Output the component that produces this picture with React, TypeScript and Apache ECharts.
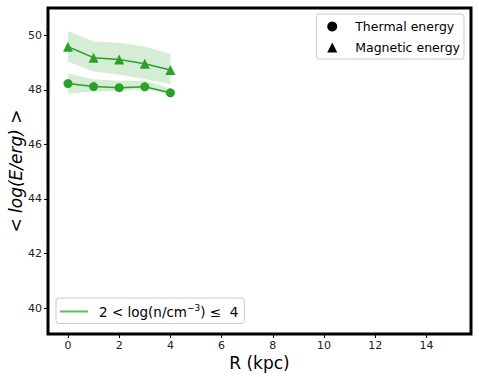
import React, { useEffect, useRef } from "react";
import * as echarts from "echarts";

const R = [0, 1, 2, 3, 4];
const thermal = [48.23, 48.12, 48.08, 48.11, 47.89];
const thermalLow = [47.86, 47.94, 47.96, 48.03, 47.84];
const thermalHigh = [48.6, 48.39, 48.33, 48.33, 48.06];
const magnetic = [49.58, 49.18, 49.11, 48.96, 48.73];
const magneticLow = [49.03, 48.67, 48.55, 48.39, 48.21];
const magneticHigh = [50.16, 49.77, 49.73, 49.59, 49.31];
const xTicks = [0, 2, 4, 6, 8, 10, 12, 14];
const yTicks = [40, 42, 44, 46, 48, 50];
const densityLabel = "2 < log(n/cm⁻³) ≤  4";
const densityRich = "2 < log(n/cm{sup|−3}) ≤  4";

const GREEN = "#2ca02c";
const BAND = "rgba(44,160,44,0.2)";
const FONT = "DejaVu Sans";

function pairs(ys: number[]) {
  return R.map((x, i) => [x, ys[i]]);
}

export default function App() {
  const ref = useRef<HTMLDivElement>(null);
  useEffect(() => {
    const chart = echarts.init(ref.current!, null, { renderer: "svg" });
    const bandSeries = (lo: number[], hi: number[]) => ({
      type: "custom",
      silent: true,
      z: 1,
      data: [0],
      encode: { x: [], y: [] },
      renderItem: (_params: any, api: any) => {
        const upper = R.map((x, i) => api.coord([x, hi[i]]));
        const lower = R.map((x, i) => api.coord([x, lo[i]])).reverse();
        return {
          type: "polygon",
          shape: { points: upper.concat(lower) },
          style: { fill: BAND, stroke: "none" },
        };
      },
    });
    chart.setOption({
      animation: false,
      textStyle: { fontFamily: FONT },
      grid: {
        left: 48,
        right: 8,
        top: 8,
        bottom: 43,
        outerBoundsMode: "none",
        containLabel: false,
        show: true,
        borderColor: "#000",
        borderWidth: 3,
        backgroundColor: "#fff",
      },
      xAxis: {
        type: "value",
        min: -0.78,
        max: 15.74,
        splitLine: { show: false },
        axisLine: { show: false, onZero: false },
        axisTick: { show: true, length: 4, lineStyle: { color: "#000" }, customValues: xTicks },
        axisLabel: { fontSize: 11, color: "#222", fontFamily: FONT, margin: 6, customValues: xTicks },
        name: "R (kpc)",
        nameLocation: "middle",
        nameGap: 20,
        nameMoveOverlap: false,
        nameTextStyle: { fontSize: 17, color: "#000", fontFamily: FONT },
      },
      yAxis: {
        type: "value",
        min: 39.05,
        max: 51,
        splitLine: { show: false },
        axisLine: { show: false, onZero: false },
        axisTick: { show: true, length: 4, lineStyle: { color: "#000" }, customValues: yTicks },
        axisLabel: { fontSize: 11, color: "#222", fontFamily: FONT, margin: 6, customValues: yTicks },
        name: "< {it|log(E/erg)} >",
        nameLocation: "middle",
        nameGap: 24,
        nameMoveOverlap: false,
        nameRotate: 90,
        nameTextStyle: {
          fontSize: 17,
          color: "#000",
          fontFamily: FONT,
          rich: { it: { fontStyle: "italic", fontSize: 17, fontFamily: FONT, color: "#000" } },
        },
      },
      legend: [
        {
          orient: "vertical",
          right: 15,
          top: 14,
          itemWidth: 10,
          itemHeight: 10,
          itemGap: 8,
          backgroundColor: "#fff",
          borderColor: "#ccc",
          borderWidth: 1,
          borderRadius: 3,
          padding: [6, 4, 5, 11],
          textStyle: { fontSize: 12.5, color: "#000", fontFamily: FONT, padding: [0, 0, 0, 13] },
          data: [
            { name: "Thermal energy", icon: "circle" },
            { name: "Magnetic energy", icon: "triangle" },
          ],
          selectedMode: false,
        },
        {
          left: 56,
          top: 298,
          itemWidth: 28,
          itemHeight: 2,
          backgroundColor: "#fff",
          borderColor: "#ccc",
          borderWidth: 1,
          borderRadius: 3,
          padding: [5, 6, 5, 4],
          formatter: () => densityRich,
          textStyle: {
            fontSize: 13.5,
            color: "#000",
            fontFamily: FONT,
            padding: [0, 0, 0, 6],
            rich: {
              sup: { fontSize: 9, color: "#000", fontFamily: FONT, padding: [0, 0, 8, 0] },
            },
          },
          data: [{ name: densityLabel, icon: "rect" }],
          selectedMode: false,
        },
      ],
      series: [
        bandSeries(thermalLow, thermalHigh),
        bandSeries(magneticLow, magneticHigh),
        {
          type: "line",
          data: pairs(thermal),
          symbol: "circle",
          symbolSize: 9,
          lineStyle: { color: GREEN, width: 1.5 },
          itemStyle: { color: GREEN },
          z: 3,
        },
        {
          type: "line",
          data: pairs(magnetic),
          symbol: "triangle",
          symbolSize: 10,
          lineStyle: { color: GREEN, width: 1.5 },
          itemStyle: { color: GREEN },
          z: 3,
        },
        { type: "line", name: "Thermal energy", data: [], itemStyle: { color: "#000" } },
        { type: "line", name: "Magnetic energy", data: [], itemStyle: { color: "#000" } },
        { type: "line", name: densityLabel, data: [], itemStyle: { color: "#5dbb5d" }, lineStyle: { color: "#5dbb5d" } },
      ],
    });
    return () => chart.dispose();
  }, []);
  return (
    <div
      ref={ref}
      style={{ position: "fixed", left: 0, top: 0, width: 479, height: 377, background: "#fff" }}
    />
  );
}
